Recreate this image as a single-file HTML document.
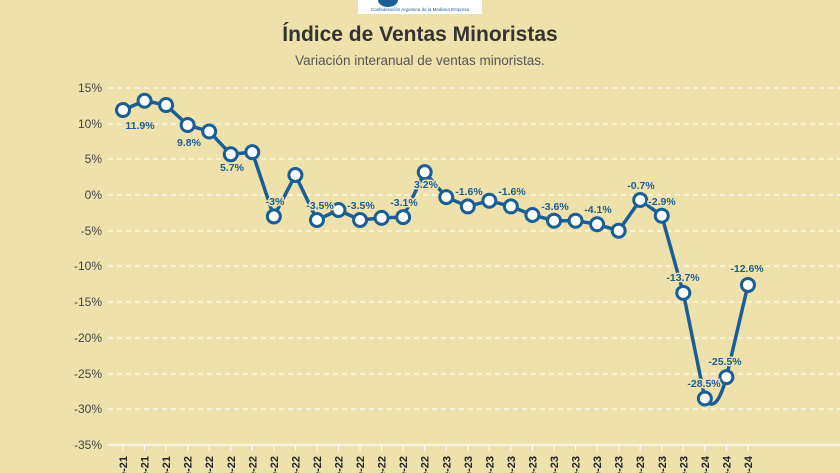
<!DOCTYPE html>
<html><head><meta charset="utf-8"><style>
body{margin:0;background:#efe1ab;}
svg{display:block;font-family:"Liberation Sans",sans-serif;}
</style></head><body>
<svg width="840" height="473" viewBox="0 0 840 473">
<rect width="840" height="473" fill="#efe1ab"/>
<rect x="358" y="0" width="124" height="14" fill="#fff"/>
<path d="M378 0 A10 7 0 0 0 398 0 Z" fill="#1a5e96"/>
<text x="420" y="11" font-size="4.5" fill="#1a5e96" text-anchor="middle">Confederación Argentina de la Mediana Empresa</text>
<text x="420" y="41" font-size="21" font-weight="bold" fill="#333" text-anchor="middle">Índice de Ventas Minoristas</text>
<text x="420" y="65" font-size="13.5" fill="#555" text-anchor="middle">Variación interanual de ventas minoristas.</text>
<g stroke="#fff" stroke-width="1.3" stroke-dasharray="5,4" opacity="0.85">
<line x1="108" y1="88" x2="840" y2="88"/><line x1="108" y1="124" x2="840" y2="124"/><line x1="108" y1="159" x2="840" y2="159"/><line x1="108" y1="195" x2="840" y2="195"/><line x1="108" y1="231" x2="840" y2="231"/><line x1="108" y1="266" x2="840" y2="266"/><line x1="108" y1="302" x2="840" y2="302"/><line x1="108" y1="338" x2="840" y2="338"/><line x1="108" y1="374" x2="840" y2="374"/><line x1="108" y1="409" x2="840" y2="409"/>
</g>
<line x1="108" y1="445" x2="840" y2="445" stroke="#fff" stroke-width="1.3"/>
<g font-size="12" fill="#444" text-anchor="end">
<text x="102" y="92">15%</text><text x="102" y="128">10%</text><text x="102" y="163">5%</text><text x="102" y="199">0%</text><text x="102" y="235">-5%</text><text x="102" y="270">-10%</text><text x="102" y="306">-15%</text><text x="102" y="342">-20%</text><text x="102" y="378">-25%</text><text x="102" y="413">-30%</text><text x="102" y="449">-35%</text>
</g>
<g id="ticks" stroke="#fff" stroke-width="1"></g>
<g id="xl" font-size="11" font-weight="bold" fill="#222"></g>
<path id="ln" fill="none" stroke="#1a5e96" stroke-width="3.5" stroke-linejoin="round"/>
<g id="pts"></g>
<g font-size="10.5" font-weight="bold" fill="#1a5e96" text-anchor="middle" stroke="#efe1ab" stroke-width="3" paint-order="stroke" stroke-linejoin="round">
<text x="140" y="129">11.9%</text>
<text x="189" y="146">9.8%</text>
<text x="232" y="171">5.7%</text>
<text x="275" y="205">-3%</text>
<text x="320" y="209">-3.5%</text>
<text x="361" y="209">-3.5%</text>
<text x="404" y="206">-3.1%</text>
<text x="426" y="188">3.2%</text>
<text x="469" y="195">-1.6%</text>
<text x="512" y="195">-1.6%</text>
<text x="555" y="210">-3.6%</text>
<text x="598" y="213">-4.1%</text>
<text x="641" y="189">-0.7%</text>
<text x="662" y="205">-2.9%</text>
<text x="683" y="281">-13.7%</text>
<text x="704" y="387">-28.5%</text>
<text x="725" y="365">-25.5%</text>
<text x="747" y="272">-12.6%</text>
</g>
<script>
var v=[11.9,13.2,12.6,9.8,8.9,5.7,6.0,-3,2.8,-3.5,-2.1,-3.5,-3.2,-3.1,3.2,-0.3,-1.6,-0.8,-1.6,-2.8,-3.6,-3.6,-4.1,-5.0,-0.7,-2.9,-13.7,-28.5,-25.5,-12.6];
var yr=['-21','-21','-21'];for(var i=0;i<12;i++)yr.push('-22');for(i=0;i<12;i++)yr.push('-23');yr.push('-24','-24','-24');
var ns="http://www.w3.org/2000/svg",d="",P=[];
for(i=0;i<30;i++){var x=123+21.55*i,y=195-v[i]*7.14;P.push([x,y]);}
for(i=0;i<30;i++){var p=P[i];
 if(i==0)d+="M"+p[0]+" "+p[1];
 else if(i==28)d+=" Q"+(P[27][0]+11)+" "+(195+31*7.14)+" "+p[0]+" "+p[1];
 else d+=" L"+p[0]+" "+p[1];
 var c=document.createElementNS(ns,"circle");c.setAttribute("cx",p[0]);c.setAttribute("cy",p[1]);c.setAttribute("r",6.5);c.setAttribute("fill","#fff");c.setAttribute("stroke","#1a5e96");c.setAttribute("stroke-width","3");document.getElementById("pts").appendChild(c);
 var t=document.createElementNS(ns,"line");t.setAttribute("x1",p[0]);t.setAttribute("x2",p[0]);t.setAttribute("y1",445);t.setAttribute("y2",451);document.getElementById("ticks").appendChild(t);
 var tx=document.createElementNS(ns,"text");tx.setAttribute("transform","translate("+(p[0]+4)+",456) rotate(-90)");tx.setAttribute("text-anchor","end");tx.textContent="ene"+yr[i];document.getElementById("xl").appendChild(tx);}
document.getElementById("ln").setAttribute("d",d);
</script>
</svg>
</body></html>
